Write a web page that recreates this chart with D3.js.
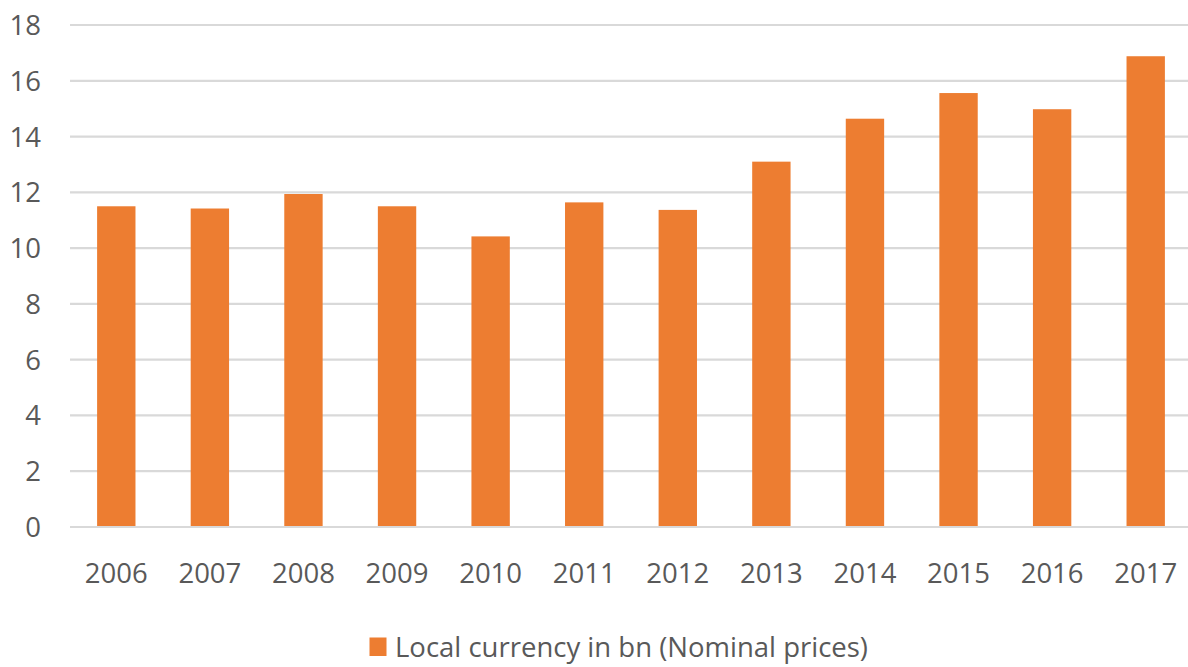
<!DOCTYPE html>
<html><head><meta charset="utf-8">
<script src="https://cdn.jsdelivr.net/npm/d3@7"></script>
<style>body{margin:0;background:#fff}svg{display:block}text{font-family:"Open Sans",sans-serif;fill:#595959}</style>
</head><body>
<svg id="c" width="1188" height="667"></svg>
<script>
const years = ["2006","2007","2008","2009","2010","2011","2012","2013","2014","2015","2016","2017"];
const values = [11.5,11.42,11.94,11.5,10.42,11.64,11.37,13.1,14.64,15.56,14.98,16.88];
const yTicks = [0,2,4,6,8,10,12,14,16,18];
const seriesName = "Local currency in bn (Nominal prices)";

const svg = d3.select("#c");
const x = d3.scaleBand().domain(years).range([69.5,1192.5]).paddingInner(0.59).paddingOuter(0.295);
const y = d3.scaleLinear().domain([0,18]).range([527,25]);
const fs = 27.5;

svg.append("g").selectAll("line").data(yTicks).join("line")
  .attr("x1",70).attr("x2",1188).attr("y1",d=>y(d)).attr("y2",d=>y(d))
  .attr("stroke","#d9d9d9").attr("stroke-width",2.2);

svg.append("g").selectAll("text").data(yTicks).join("text")
  .attr("x",41).attr("y",d=>y(d)+10).attr("text-anchor","end")
  .attr("font-size",fs).text(d=>d);

svg.append("g").selectAll("rect").data(values).join("rect")
  .attr("x",(d,i)=>x(years[i])).attr("width",x.bandwidth())
  .attr("y",d=>y(d)).attr("height",d=>y(0)-y(d)-1)
  .attr("fill","#ED7D31");

svg.append("g").selectAll("text").data(years).join("text")
  .attr("x",d=>x(d)+x.bandwidth()/2).attr("y",582.5).attr("text-anchor","middle")
  .attr("font-size",fs).text(d=>d);

const lg = svg.append("g");
lg.append("rect").attr("x",369.5).attr("y",637.5).attr("width",17).attr("height",18.5).attr("fill","#ED7D31");
lg.append("text").attr("x",395).attr("y",657).attr("font-size",fs).text(seriesName);
</script>
</body></html>
